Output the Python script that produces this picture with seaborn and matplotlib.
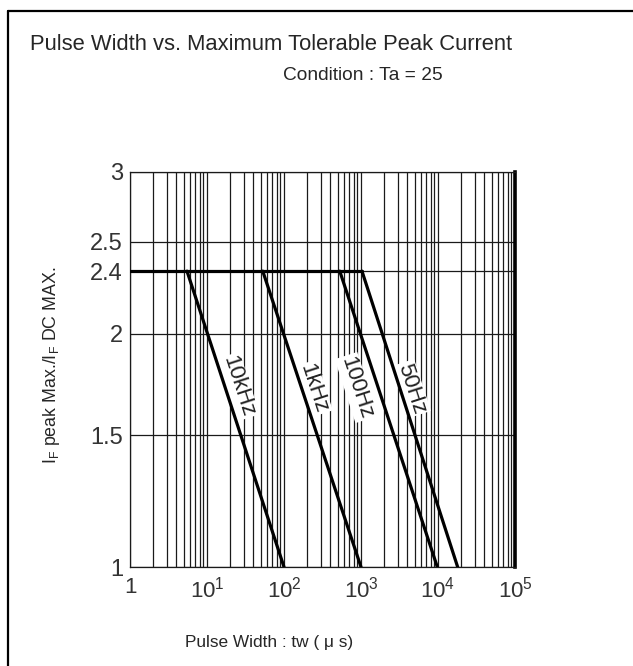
import numpy as np
import pandas as pd
import matplotlib
matplotlib.use('Agg')
from matplotlib import pyplot as plt
from matplotlib.ticker import FixedLocator, LogLocator, NullLocator, NullFormatter
from matplotlib.lines import Line2D
import seaborn as sns

# values
freqs = ['10kHz', '1kHz', '100Hz', '50Hz']
knee_tw = [5.5, 53, 530, 1030]      # where the curve leaves the 2.4 plateau
end_tw = [100, 1000, 9800, 18000]   # where it reaches 1.0
plateau = 2.4
floor = 1.0
label_tw = [25.5, 240, 870, 4500]
label_ratio = [1.74, 1.73, 1.735, 1.73]

yticks = [1, 1.5, 2, 2.4, 2.5, 3]
ytick_labels = ['1', '1.5', '2', '2.4', '2.5', '3']
xticks = [1, 1e1, 1e2, 1e3, 1e4, 1e5]
xtick_labels = ['1', r'$\mathregular{10^1}$', r'$\mathregular{10^2}$', r'$\mathregular{10^3}$',
                r'$\mathregular{10^4}$', r'$\mathregular{10^5}$']

# the printed y axis is not evenly spaced, so map it piece by piece
y_knots = np.array([1, 1.5, 2, 2.4, 2.5, 3])
y_frac = np.array([0, 0.334, 0.590, 0.749, 0.823, 1.0])

def y_fwd(v):
    return np.interp(v, y_knots, y_frac)

def y_inv(v):
    return np.interp(v, y_frac, y_knots)

# long table: the common plateau plus one falling segment per frequency
rows = [('plateau', 1, plateau), ('plateau', max(knee_tw), plateau)]
for f, k, e in zip(freqs, knee_tw, end_tw):
    rows.append((f, k, plateau))
    rows.append((f, e, floor))
df = pd.DataFrame(rows, columns=['curve', 'tw', 'ratio'])

sns.set_style('white')
plt.rcParams['font.family'] = ['Liberation Sans', 'DejaVu Sans']

W, H = 633, 666
fig = plt.figure(figsize=(W / 100, H / 100), dpi=100)
ax = fig.add_axes([130 / W, 99 / H, 385 / W, 395 / H])

ax.set_xscale('log')
ax.set_yscale('function', functions=(y_fwd, y_inv))

sns.lineplot(data=df, x='tw', y='ratio', units='curve', estimator=None, sort=False,
             color='black', linewidth=2.3, ax=ax, legend=False, zorder=5)

ax.set_xlim(1, 1e5)
ax.set_ylim(1, 3)

ax.xaxis.set_major_locator(FixedLocator(xticks))
ax.xaxis.set_minor_locator(LogLocator(base=10, subs=np.arange(2, 10), numticks=20))
ax.xaxis.set_minor_formatter(NullFormatter())
ax.set_xticklabels(xtick_labels, fontsize=16, color='#333333')
ax.yaxis.set_major_locator(FixedLocator(yticks))
ax.yaxis.set_minor_locator(NullLocator())
ax.set_yticklabels(ytick_labels, fontsize=17, color='#333333')
ax.tick_params(axis='both', which='both', length=0)
ax.tick_params(axis='y', pad=5)
ax.tick_params(axis='x', pad=7)

ax.grid(True, which='both', axis='x', color='#1a1a1a', linewidth=0.9)
ax.grid(True, which='major', axis='y', color='#1a1a1a', linewidth=0.9)

for s in ax.spines.values():
    s.set_color('#1a1a1a')
    s.set_linewidth(0.9)
ax.spines['right'].set_linewidth(2.6)
ax.spines['right'].set_color('black')

for f, tx, ty in zip(freqs, label_tw, label_ratio):
    ax.text(tx, ty, f, rotation=-72, ha='center', va='center',
            fontsize=16, color='#222222', zorder=4,
            bbox=dict(facecolor='white', edgecolor='none', pad=1.0))

ax.set_xlabel('')
ax.set_ylabel('')

fig.text(52 / W, 1 - 365 / H, r'I$_\mathregular{F}$ peak Max./I$_\mathregular{F}$ DC MAX.',
         rotation=90, ha='center', va='center', fontsize=12.8)
fig.text(269 / W, 1 - 642 / H, 'Pulse Width : tw ( \u03bc s)', ha='center', va='center',
         fontsize=12.4)
fig.text(271 / W, 1 - 45 / H, 'Pulse Width vs. Maximum Tolerable Peak Current',
         ha='center', va='center', fontsize=15.8)
fig.text(283 / W, 1 - 75 / H, 'Condition : Ta = 25', ha='left', va='center', fontsize=13.8)

# outer frame of the datasheet panel (only top and left edges are on the page)
fig.add_artist(Line2D([8 / W, 8 / W], [0, 1 - 11 / H], transform=fig.transFigure,
                      color='black', linewidth=1.6))
fig.add_artist(Line2D([8 / W, 1], [1 - 11 / H, 1 - 11 / H], transform=fig.transFigure,
                      color='black', linewidth=1.6))

fig.savefig('out.png', dpi=100)
